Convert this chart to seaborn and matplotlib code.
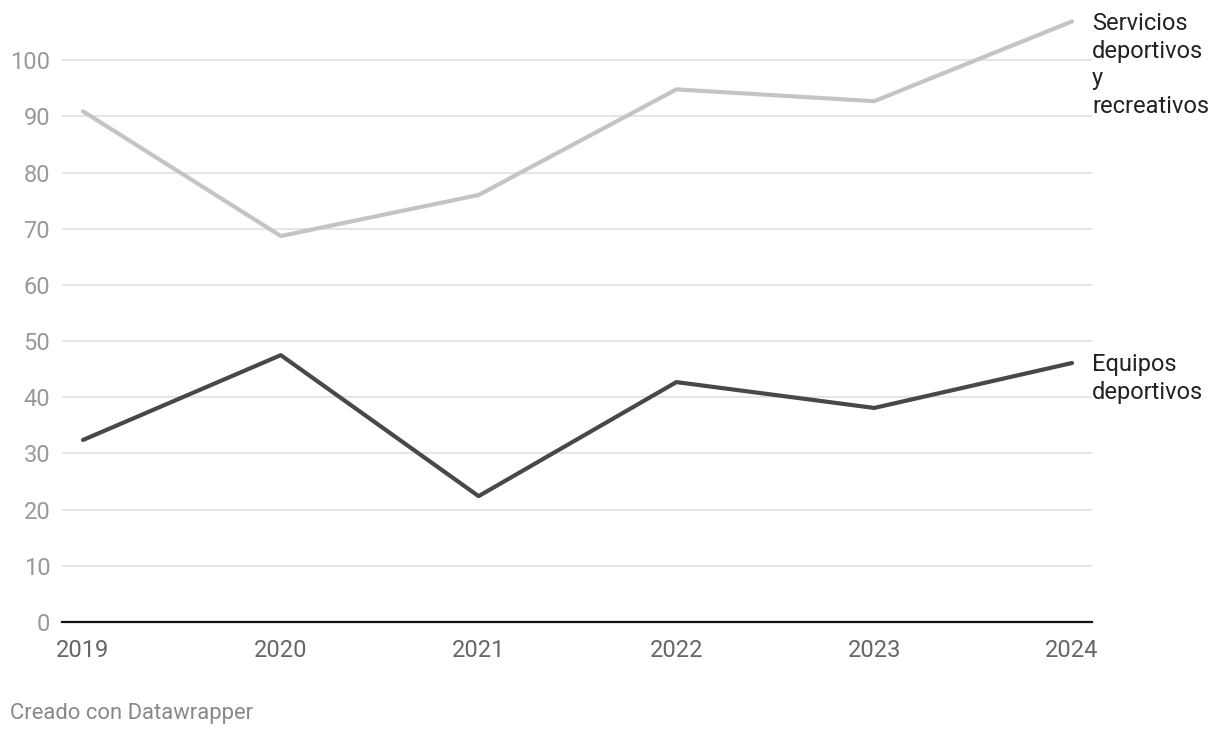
import pandas as pd
import seaborn as sns
import matplotlib.pyplot as plt

years = [2019, 2020, 2021, 2022, 2023, 2024]
servicios = [90.9, 68.7, 76.0, 94.8, 92.7, 106.9]
equipos = [32.4, 47.5, 22.4, 42.7, 38.1, 46.1]
series_names = ["Servicios\ndeportivos\ny\nrecreativos", "Equipos\ndeportivos"]
colors = ["#c4c4c4", "#484848"]
y_ticks = [0, 10, 20, 30, 40, 50, 60, 70, 80, 90, 100]

df = pd.DataFrame({
    "year": years * 2,
    "value": servicios + equipos,
    "serie": [series_names[0]] * len(years) + [series_names[1]] * len(years),
})

sns.set_style("white")
plt.rcParams["font.family"] = ["Roboto", "DejaVu Sans"]

fig = plt.figure(figsize=(12.2, 7.38), dpi=100)
ax = fig.add_axes([62 / 1220, (738 - 622) / 738, (1092 - 62) / 1220, (622 - 4) / 738])

sns.lineplot(data=df, x="year", y="value", hue="serie", palette=colors,
             linewidth=3, ax=ax, legend=False)

ax.set_xlim(2019 - 21 / 197.8, 2024 + 20 / 197.8)
ax.set_ylim(0, 110)
ax.set_yticks(y_ticks)
ax.set_xticks(years)
ax.grid(axis="y", color="#e3e3e3", linewidth=1.3)
ax.set_axisbelow(True)
for s in ["top", "right", "left"]:
    ax.spines[s].set_visible(False)
ax.spines["bottom"].set_color("#111111")
ax.spines["bottom"].set_linewidth(1.6)
ax.spines["bottom"].set_zorder(5)
ax.set_xlabel("")
ax.set_ylabel("")
ax.tick_params(axis="y", length=0, pad=8.5, labelsize=17, labelcolor="#999999")
ax.tick_params(axis="x", length=0, pad=12, labelsize=17, labelcolor="#666666")

# labels at the end of each line
for name, vals in zip(series_names, [servicios, equipos]):
    ax.annotate(name, xy=(1.0, vals[-1]), xycoords=("axes fraction", "data"),
                xytext=(0, 7), textcoords="offset points",
                ha="left", va="top", fontsize=17, color="#222222",
                linespacing=1.27, annotation_clip=False)

fig.text(10 / 1220, 1 - 714 / 738, "Creado con Datawrapper", fontsize=15.8,
         color="#888888", ha="left", va="center")

fig.savefig("out.png", dpi=100)
